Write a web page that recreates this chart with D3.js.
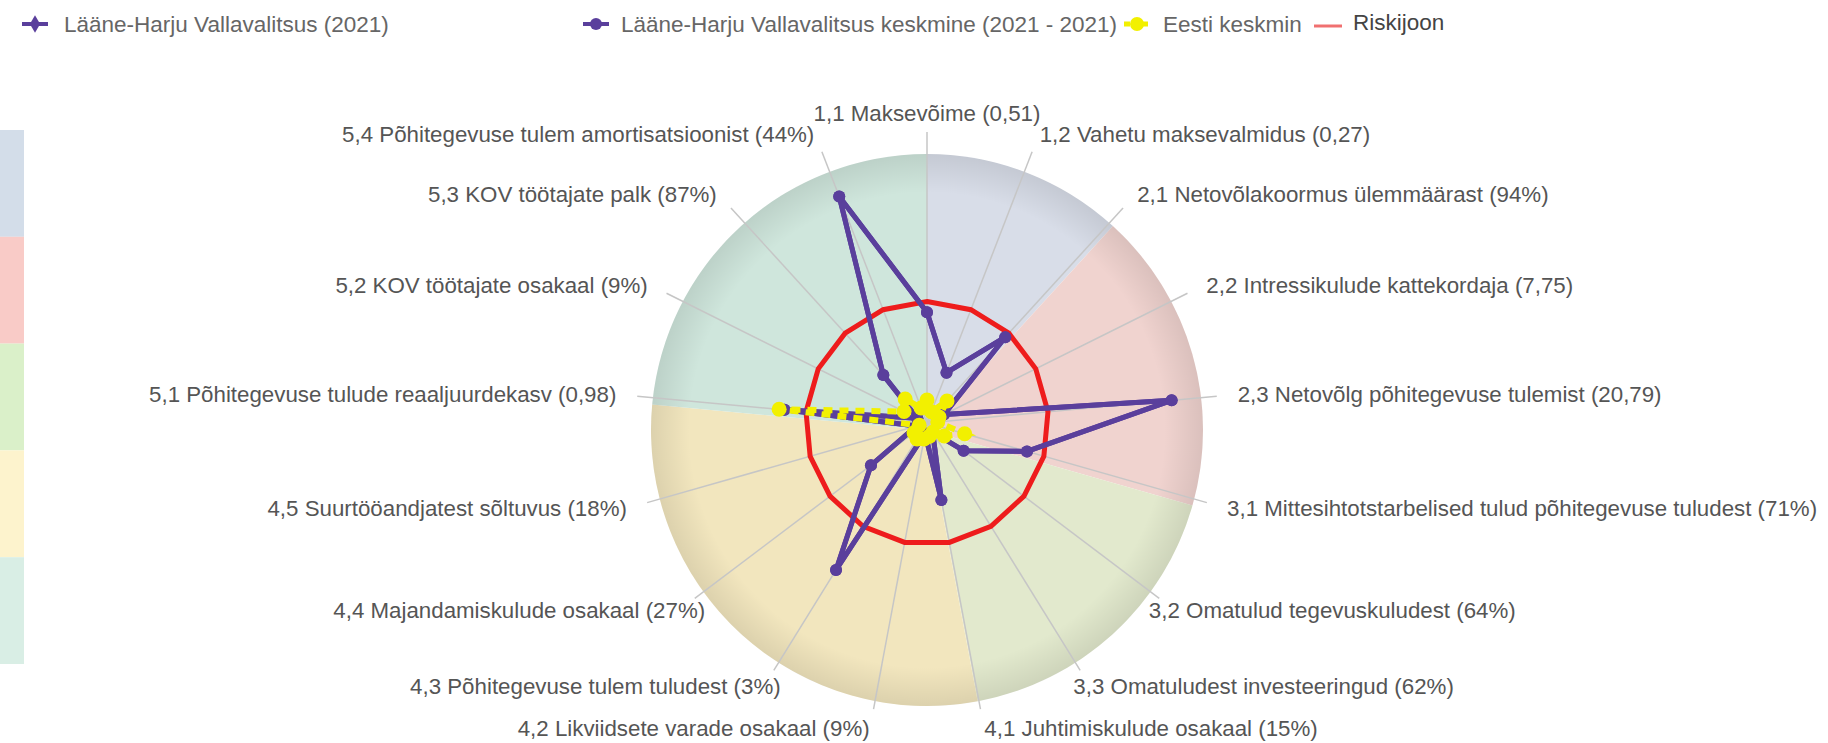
<!DOCTYPE html>
<html>
<head>
<meta charset="utf-8">
<script src="https://cdn.jsdelivr.net/npm/d3@7"></script>
<style>
  body { margin: 0; background: #fff; }
  svg text { font-family: "Liberation Sans", Arial, sans-serif; }
</style>
</head>
<body>
<svg id="chart" width="1828" height="743"></svg>
<script>
// Telgede nimed (17 näitajat)
const axisLabels = [
  "1,1 Maksevõime (0,51)",
  "1,2 Vahetu maksevalmidus (0,27)",
  "2,1 Netovõlakoormus ülemmäärast (94%)",
  "2,2 Intressikulude kattekordaja (7,75)",
  "2,3 Netovõlg põhitegevuse tulemist (20,79)",
  "3,1 Mittesihtotstarbelised tulud põhitegevuse tuludest (71%)",
  "3,2 Omatulud tegevuskuludest (64%)",
  "3,3 Omatuludest investeeringud (62%)",
  "4,1 Juhtimiskulude osakaal (15%)",
  "4,2 Likviidsete varade osakaal (9%)",
  "4,3 Põhitegevuse tulem tuludest (3%)",
  "4,4 Majandamiskulude osakaal (27%)",
  "4,5 Suurtööandjatest sõltuvus (18%)",
  "5,1 Põhitegevuse tulude reaaljuurdekasv (0,98)",
  "5,2 KOV töötajate osakaal (9%)",
  "5,3 KOV töötajate palk (87%)",
  "5,4 Põhitegevuse tulem amortisatsioonist (44%)"
];
// Mis grupi alla iga telg kuulub
const axisGroups = ["1","1","2","2","2","3","3","3","4","4","4","4","4","5","5","5","5"];
const groupNames = ["1","2","3","4","5"];

// Seeriad (hinnang pildilt, 0..100 skaalal)
const seriesNames = [
  "Lääne-Harju Vallavalitsus (2021)",
  "Lääne-Harju Vallavalitsus keskmine (2021 - 2021)",
  "Eesti keskmine",
  "Riskijoon"
];
const valdValues     = [41, 20, 43, 7, 91, 38.5, 17, 4, 29, 4, 64, 26, 4, 53, 4, 24, 90];
const valdKeskmine   = [41, 20, 43, 7, 91, 38.5, 17, 4, 29, 4, 64, 26, 4, 53, 4, 24, 90];
const eestiKeskmine  = [8.5, 4.5, 11, 5, 4, 14.5, 8, 4, 5, 6, 7, 6, 3, 55, 9.5, 12, 6];
const riskValue = 45;

// Värvid
const sectorColors = ["#d8dde8", "#f0d3cf", "#e2e9cd", "#f2e6be", "#cfe6dc"];
const stripColors  = ["#d3dde9", "#f9cbc7", "#daf0c9", "#fdf3cd", "#d9eee5"];
const purple = "#5a3f9c";
const yellow = "#f2f000";
const red = "#ee1c1c";

const svg = d3.select("#chart");
const cx = 927, cy = 423;
const n = axisLabels.length;

const r = d3.scaleLinear().domain([0, 100]).range([0, 270]);
const angle = d3.scaleLinear().domain([0, n]).range([0, 2 * Math.PI]);

// Vasak värviriba
const strip = d3.scaleBand().domain(groupNames).range([130, 664]);
svg.append("g").selectAll("rect")
  .data(groupNames)
  .join("rect")
  .attr("x", 0)
  .attr("y", d => strip(d))
  .attr("width", 24)
  .attr("height", strip.bandwidth())
  .attr("fill", (d, i) => stripColors[i]);

// Gruppide taustasektorid
const groupStart = groupNames.map(g => axisGroups.indexOf(g));
const sectors = groupNames.map((g, i) => ({
  startAngle: angle(groupStart[i]),
  endAngle: angle(i + 1 < groupNames.length ? groupStart[i + 1] : n),
  color: sectorColors[i]
}));

const pieR = 276;
const pie = svg.append("g").attr("transform", `translate(${cx},${cy + 7})`);
const arc = d3.arc().innerRadius(0).outerRadius(pieR);
pie.selectAll("path")
  .data(sectors)
  .join("path")
  .attr("d", arc)
  .attr("fill", d => d.color);

// Äärevari
const defs = svg.append("defs");
const rg = defs.append("radialGradient").attr("id", "rim");
rg.append("stop").attr("offset", "86%").attr("stop-color", "#000").attr("stop-opacity", 0);
rg.append("stop").attr("offset", "100%").attr("stop-color", "#000").attr("stop-opacity", 0.09);
pie.append("circle").attr("r", pieR).attr("fill", "url(#rim)");

const g = svg.append("g").attr("transform", `translate(${cx},${cy})`);

// Teljejooned
g.selectAll("line.axis")
  .data(axisLabels)
  .join("line")
  .attr("class", "axis")
  .attr("x1", 0).attr("y1", 0)
  .attr("x2", (d, i) => 291 * Math.sin(angle(i)))
  .attr("y2", (d, i) => -291 * Math.cos(angle(i)))
  .attr("stroke", "#c6c6c6")
  .attr("stroke-width", 1.5);

// Telgede sildid (alumised diagonaalsed on ringile lähemal)
function labelX(i) {
  const s = Math.sin(angle(i)), c = Math.cos(angle(i));
  const rx = (c < -0.5 && Math.abs(s) > 0.5) ? 278 : 312;
  return rx * s;
}
g.selectAll("text.lbl")
  .data(axisLabels)
  .join("text")
  .attr("class", "lbl")
  .attr("x", (d, i) => labelX(i))
  .attr("y", (d, i) => -310 * Math.cos(angle(i)))
  .attr("dy", "0.35em")
  .attr("text-anchor", (d, i) => {
    const s = Math.sin(angle(i));
    return Math.abs(s) < 0.1 ? "middle" : (s > 0 ? "start" : "end");
  })
  .attr("font-size", 22.3)
  .attr("fill", "#555")
  .text(d => d);

const radial = d3.lineRadial()
  .angle((d, i) => angle(i))
  .radius(d => r(d))
  .curve(d3.curveLinearClosed);

// Riskijoon
g.append("path")
  .attr("d", radial(axisLabels.map(() => riskValue)))
  .attr("fill", "none")
  .attr("stroke", red)
  .attr("stroke-width", 5);

// Lilla seeriad
[valdValues, valdKeskmine].forEach(vals => {
  g.append("path")
    .attr("d", radial(vals))
    .attr("fill", "none")
    .attr("stroke", purple)
    .attr("stroke-width", 5)
    .attr("stroke-linejoin", "round");
  g.append("g").selectAll("circle")
    .data(vals)
    .join("circle")
    .attr("cx", (d, i) => r(d) * Math.sin(angle(i)))
    .attr("cy", (d, i) => -r(d) * Math.cos(angle(i)))
    .attr("r", 6)
    .attr("fill", purple);
});

// Eesti keskmine (kollane, katkendjoon)
g.append("path")
  .attr("d", radial(eestiKeskmine))
  .attr("fill", "none")
  .attr("stroke", yellow)
  .attr("stroke-width", 6)
  .attr("stroke-dasharray", "9,7");
g.append("g").selectAll("circle")
  .data(eestiKeskmine)
  .join("circle")
  .attr("cx", (d, i) => r(d) * Math.sin(angle(i)))
  .attr("cy", (d, i) => -r(d) * Math.cos(angle(i)))
  .attr("r", 7.5)
  .attr("fill", yellow);

// Legend
const ly = 24;
const legend = svg.append("g");
function legendLine(x, color, w, dash) {
  legend.append("line")
    .attr("x1", x).attr("x2", x + 26)
    .attr("y1", ly).attr("y2", ly)
    .attr("stroke", color).attr("stroke-width", w)
    .attr("stroke-dasharray", dash || null);
}
legendLine(22, purple, 4);
legend.append("path")
  .attr("transform", `translate(35,${ly})`)
  .attr("d", d3.symbol(d3.symbolDiamond, 90)())
  .attr("fill", purple);
legend.append("text").attr("x", 64).attr("y", ly).attr("dy", "0.35em")
  .attr("font-size", 22.5).attr("fill", "#666").text(seriesNames[0]);

legendLine(583, purple, 4);
legend.append("circle").attr("cx", 596).attr("cy", ly).attr("r", 6).attr("fill", purple);
legend.append("text").attr("x", 621).attr("y", ly).attr("dy", "0.35em")
  .attr("font-size", 22.5).attr("fill", "#666").text(seriesNames[1]);

legendLine(1124, yellow, 5, "6,3");
legend.append("circle").attr("cx", 1137).attr("cy", ly).attr("r", 7).attr("fill", yellow);

defs.append("clipPath").attr("id", "clipEesti")
  .append("rect").attr("x", 1150).attr("y", 0).attr("width", 152).attr("height", 50);
legend.append("text").attr("x", 1163).attr("y", ly).attr("dy", "0.35em")
  .attr("clip-path", "url(#clipEesti)")
  .attr("font-size", 22.5).attr("fill", "#666").text(seriesNames[2]);

legend.append("line")
  .attr("x1", 1314).attr("x2", 1342)
  .attr("y1", ly + 2).attr("y2", ly + 2)
  .attr("stroke", "#f07070").attr("stroke-width", 3);
legend.append("text").attr("x", 1353).attr("y", ly - 2).attr("dy", "0.35em")
  .attr("font-size", 22.5).attr("fill", "#444").text(seriesNames[3]);
</script>
</body>
</html>
